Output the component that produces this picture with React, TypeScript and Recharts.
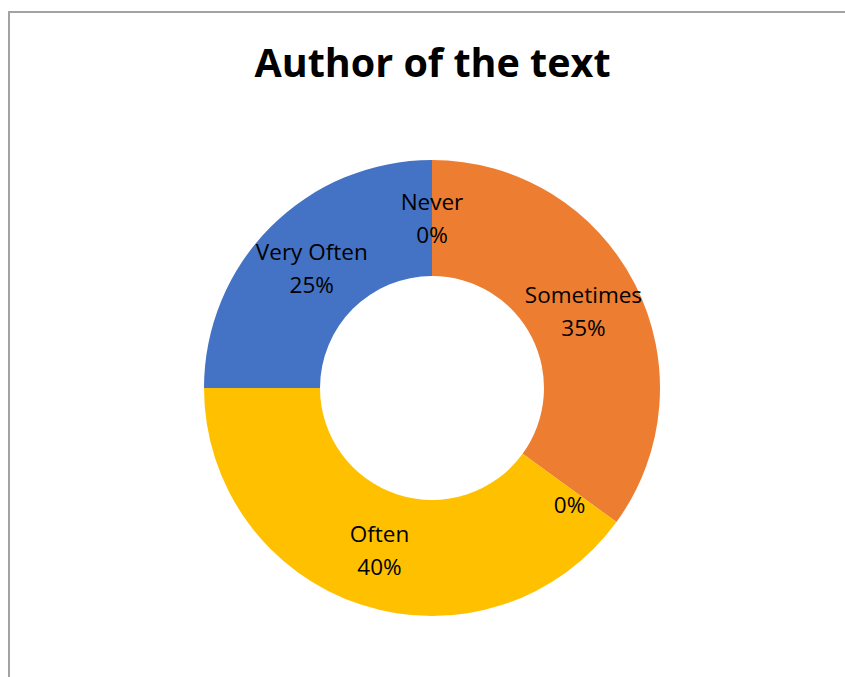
import React from "react";
import { PieChart, Pie, Cell } from "recharts";

const categories = ["Never", "Sometimes", "", "Often", "Very Often"];
const values = [0, 35, 0, 40, 25];
const colors = ["#4472C4", "#ED7D31", "#A5A5A5", "#FFC000", "#4472C4"];
const title = "Author of the text";

const data = categories.map((name, i) => ({ name, value: values[i] }));

const RADIAN = Math.PI / 180;

const renderLabel = (props: any) => {
  const { cx, cy, midAngle, innerRadius, outerRadius, name, value } = props;
  const r = (innerRadius + outerRadius) / 2;
  const x = cx + r * Math.cos(-midAngle * RADIAN);
  const y = cy + r * Math.sin(-midAngle * RADIAN);
  return (
    <text
      x={x}
      y={y}
      textAnchor="middle"
      fill="#000"
      fontFamily="'Open Sans', sans-serif"
      fontSize={22.5}
    >
      <tspan x={x} y={y - 16.5} dominantBaseline="central">{name}</tspan>
      <tspan x={x} y={y + 16.5} dominantBaseline="central">{`${value}%`}</tspan>
    </text>
  );
};

export default function App() {
  return (
    <div style={{ position: "absolute", left: 0, top: 0, width: 845, height: 677, overflow: "hidden", background: "#fff" }}>
      <div
        style={{
          position: "absolute",
          left: 8,
          top: 11,
          width: 1000,
          height: 1000,
          border: "2px solid #a3a3a3",
          boxSizing: "border-box",
        }}
      />
      <div
        style={{
          position: "absolute",
          left: 0,
          width: 865,
          top: 38,
          textAlign: "center",
          fontFamily: "'Open Sans', sans-serif",
          fontWeight: 700,
          fontSize: 39.5,
          lineHeight: "48px",
          color: "#000",
        }}
      >
        {title}
      </div>
      <div style={{ position: "absolute", left: 0, top: 0 }}>
        <PieChart width={845} height={677} margin={{ top: 0, right: 0, bottom: 0, left: 0 }}>
          <Pie
            data={data}
            dataKey="value"
            nameKey="name"
            cx={432}
            cy={388}
            innerRadius={112}
            outerRadius={228}
            startAngle={90}
            endAngle={-270}
            stroke="none"
            label={renderLabel}
            labelLine={false}
            isAnimationActive={false}
          >
            {data.map((d, i) => (
              <Cell key={i} fill={colors[i]} />
            ))}
          </Pie>
        </PieChart>
      </div>
    </div>
  );
}
